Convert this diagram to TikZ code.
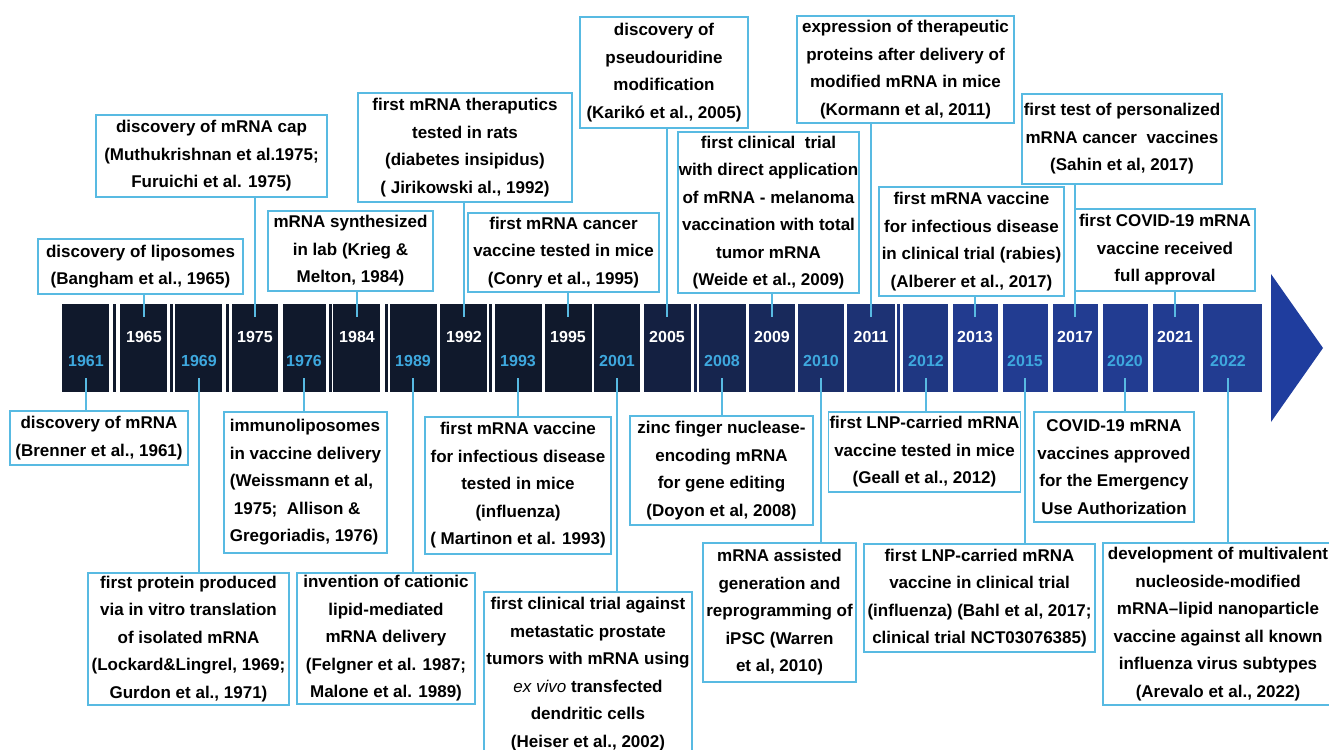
\documentclass[tikz,border=0pt]{standalone}
\usepackage{fontspec}
\setmainfont{Liberation Sans}
\definecolor{linecyan}{RGB}{88,186,226}
\definecolor{yearcyan}{RGB}{62,168,222}
\definecolor{banddark}{RGB}{16,25,44}
\definecolor{bandblue}{RGB}{34,60,145}
\definecolor{arrowblue}{RGB}{31,61,158}

\begin{document}
\begin{tikzpicture}[x=1pt, y=-1pt,
    evbox/.style={draw=linecyan, line width=1.6pt, fill=white, align=center, inner sep=1pt,
        font=\bfseries\fontsize{17}{27.5}\selectfont},
    yrblock/.style={inner sep=0pt, minimum height=88pt},
    yrup/.style={text=white, font=\bfseries\fontsize{16}{16}\selectfont},
    yrlo/.style={text=yearcyan, font=\bfseries\fontsize{16}{16}\selectfont},
    conn/.style={draw=linecyan, line width=1.8pt}]

    \useasboundingbox (0,0) rectangle (1329,749);
    \clip (0,0) rectangle (1329,749);
    \fill[white] (0,0) rectangle (1329,749);

    \foreach \yr/\xl/\xr/\lx/\ly/\st in {1961/62/109/86/361/yrlo, 1965/120/167/144/337/yrup,
        1969/175/222/199/361/yrlo, 1975/232/278/255/337/yrup, 1976/283/326/304/361/yrlo,
        1984/333/380/357/337/yrup, 1989/390/437/413/361/yrlo, 1992/440/487/464/337/yrup,
        1993/495/542/518/361/yrlo, 1995/545/592/568/337/yrup, 2001/594/640/617/361/yrlo,
        2005/644/691/667/337/yrup, 2008/699/746/722/361/yrlo, 2009/749/795/772/337/yrup,
        2010/798/844/821/361/yrlo, 2011/847/895/871/337/yrup, 2012/903/948/926/361/yrlo,
        2013/953/998/975/337/yrup, 2015/1003/1048/1025/361/yrlo, 2017/1053/1098/1075/337/yrup,
        2020/1103/1148/1125/361/yrlo, 2021/1153/1199/1175/337/yrup, 2022/1203/1262/1228/361/yrlo}
    {
        \pgfmathtruncatemacro\p{min(100,max(0,(\xl-560)/4))}
        \node[yrblock, fill=bandblue!\p!banddark, minimum width={\xr-\xl}] (b\yr) at ({(\xl+\xr)/2},348) {};
        \node[\st] (l\yr) at (\lx,\ly) {\yr};
    }
    \foreach \sx in {114,171,227,330,386,490,695,898}
    {
        \pgfmathtruncatemacro\p{min(100,max(0,(\sx-560)/4))}
        \fill[bandblue!\p!banddark] (\sx-1.5,304) rectangle (\sx+1.5,392);
    }
    \fill[arrowblue] (1271,274) -- (1323,348) -- (1271,422) -- cycle;

    \node[evbox, minimum width=205pt, minimum height=55pt] (ev1965) at (140.5,266.5)
        {discovery of liposomes\\(Bangham et al., 1965)};
    \node[evbox, minimum width=231pt, minimum height=82pt] (ev1975) at (211.5,156)
        {discovery of mRNA cap\\(Muthukrishnan et al.1975;\\Furuichi et al. 1975)};
    \node[evbox, minimum width=165pt, minimum height=80pt] (ev1984) at (350.5,251)
        {mRNA synthesized\\in lab (Krieg \&\\Melton, 1984)};
    \node[evbox, minimum width=214pt, minimum height=109pt] (ev1992) at (465,147.5)
        {first mRNA theraputics\\tested in rats\\(diabetes insipidus)\\(\ Jirikowski al., 1992)};
    \node[evbox, minimum width=191pt, minimum height=79pt] (ev1995) at (563.5,252.5)
        {first mRNA cancer\\vaccine tested in mice\\(Conry et al., 1995)};
    \node[evbox, minimum width=168pt, minimum height=111pt] (ev2005) at (664,72.5)
        {discovery of\\pseudouridine\\modification\\(Karikó et al., 2005)};
    \node[evbox, minimum width=181pt, minimum height=161pt] (ev2009) at (768.5,212.5)
        {first clinical\ \ trial\\with direct application\\of mRNA - melanoma\\vaccination with total\\tumor mRNA\\(Weide et al., 2009)};
    \node[evbox, minimum width=217pt, minimum height=107pt] (ev2011) at (905.5,69.5)
        {expression of therapeutic\\proteins after delivery of\\modified mRNA in mice\\(Kormann et al, 2011)};
    \node[evbox, minimum width=185pt, minimum height=109pt] (ev2013) at (971.5,241.5)
        {first mRNA vaccine\\for infectious disease\\in clinical trial (rabies)\\(Alberer et al., 2017)};
    \node[evbox, minimum width=200pt, minimum height=90pt] (ev2017) at (1122,139)
        {first test of personalized\\mRNA cancer\ \ vaccines\\(Sahin et al, 2017)};
    \node[evbox, minimum width=180pt, minimum height=82pt] (ev2021) at (1165,250)
        {first COVID-19 mRNA\\vaccine received\\full approval};

    \node[evbox, minimum width=178pt, minimum height=54pt] (ev1961) at (99,438)
        {discovery of mRNA\\(Brenner et al., 1961)};
    \node[evbox, minimum width=201pt, minimum height=132pt] (ev1969) at (188.5,639)
        {first protein produced\\via in vitro translation\\of isolated mRNA\\(Lockard\&Lingrel, 1969;\\Gurdon et al., 1971)};
    \node[evbox, align=left, minimum width=163pt, minimum height=141pt] (ev1976) at (305.5,482.5)
        {immunoliposomes\\in vaccine delivery\\(Weissmann et al,\\\kern4pt 1975;\ \ Allison \&\\Gregoriadis, 1976)};
    \node[evbox, minimum width=178pt, minimum height=131pt] (ev1989) at (386,638.5)
        {invention of cationic\\lipid-mediated\\mRNA delivery\\(Felgner et al. 1987;\\Malone et al. 1989)};
    \node[evbox, minimum width=186pt, minimum height=137pt] (ev1993) at (518,485.5)
        {first mRNA vaccine\\for infectious disease\\tested in mice\\(influenza)\\(\ Martinon et al. 1993)};
    \node[evbox, minimum width=208pt, minimum height=164pt] (ev2001) at (588,674)
        {first clinical trial against\\metastatic prostate\\tumors with mRNA using\\{\mdseries\itshape ex vivo} transfected\\dendritic cells\\(Heiser et al., 2002)};
    \node[evbox, minimum width=183pt, minimum height=109pt] (ev2008) at (721.5,470.5)
        {zinc finger nuclease-\\encoding mRNA\\for gene editing\\(Doyon et al, 2008)};
    \node[evbox, minimum width=153pt, minimum height=139pt] (ev2010) at (779.5,612.5)
        {mRNA assisted\\generation and\\reprogramming of\\iPSC (Warren\\et al, 2010)};
    \node[evbox, minimum width=191pt, minimum height=80pt] (ev2012) at (924.5,452)
        {first LNP-carried mRNA\\vaccine tested in mice\\(Geall et al., 2012)};
    \node[evbox, minimum width=231pt, minimum height=108pt] (ev2015) at (979.5,598)
        {first LNP-carried mRNA\\vaccine in clinical trial\\(influenza) (Bahl et al, 2017;\\clinical trial NCT03076385)};
    \node[evbox, minimum width=160pt, minimum height=110pt] (ev2020) at (1114,467)
        {COVID-19 mRNA\\vaccines approved\\for the Emergency\\Use Authorization};
    \node[evbox, minimum width=230pt, minimum height=162pt] (ev2022) at (1218,624)
        {development of multivalent\\nucleoside-modified\\mRNA--lipid nanoparticle\\vaccine against all known\\influenza virus subtypes\\(Arevalo et al., 2022)};

    \foreach \yr in {1965,1975,1984,1992,1995,2005,2009,2011,2013,2017,2021}
        \draw[conn] (ev\yr.south -| l\yr) -- (b\yr.north -| l\yr) -- ++(0,13);
    \foreach \yr in {1961,1969,1976,1989,1993,2001,2008,2010,2012,2015,2020,2022}
        \draw[conn] (ev\yr.north -| l\yr) -- (b\yr.south -| l\yr) -- ++(0,-14);

\end{tikzpicture}
\end{document}
